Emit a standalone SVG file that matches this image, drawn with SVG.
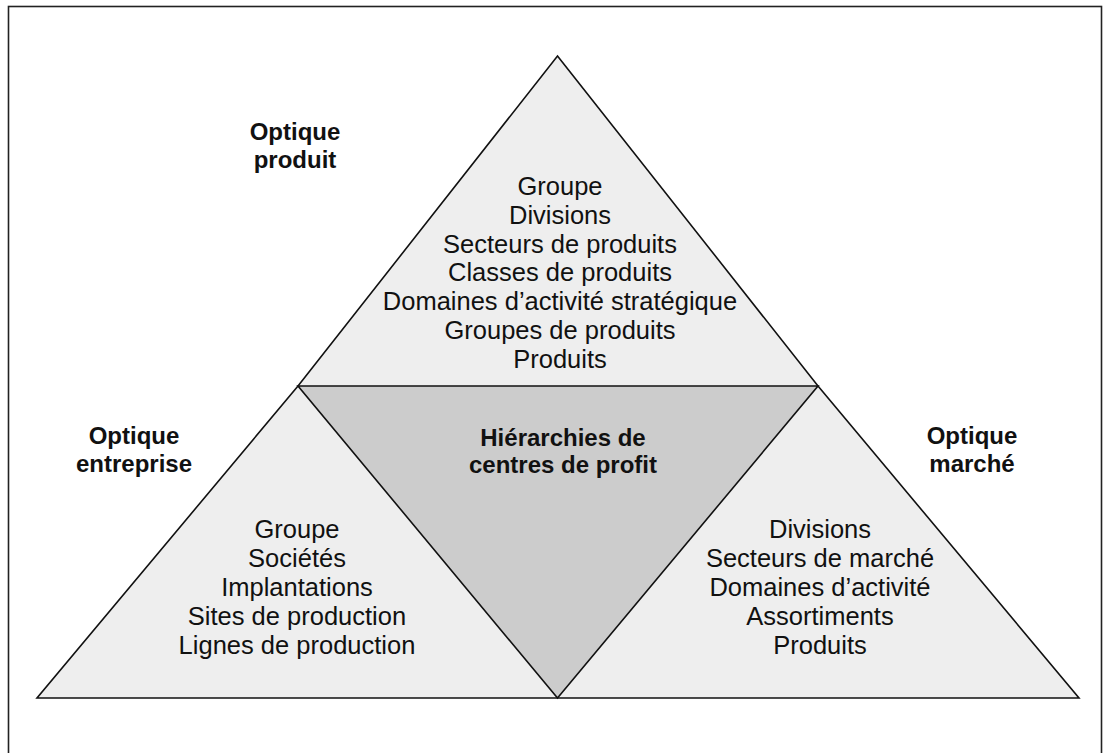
<svg xmlns="http://www.w3.org/2000/svg" width="1105" height="753" viewBox="0 0 1105 753">
<style>
.t{font-family:"Liberation Sans",Arial,sans-serif;font-size:25.5px;fill:#111;text-anchor:middle}
.b{font-family:"Liberation Sans",Arial,sans-serif;font-size:24px;font-weight:bold;fill:#111;text-anchor:middle}
.tri{stroke:#111;stroke-width:1.6;stroke-linejoin:miter}
</style>
<rect width="1105" height="753" fill="#fff"/>
<rect x="8.5" y="6.5" width="1093" height="770" fill="none" stroke="#222" stroke-width="1.6"/>
<g id="outer">
<polygon class="tri" points="557.5,56 818,386 1079,698 37,698 298,386" fill="#eeeeee"/>
</g>
<g id="centre">
<polygon class="tri" points="298,386 818,386 557.5,698" fill="#cccccc"/>
<text class="b" x="563" y="446">Hiérarchies de</text>
<text class="b" x="563" y="473">centres de profit</text>
</g>
<g id="produit">
<text class="b" x="295" y="140">Optique</text>
<text class="b" x="295" y="168">produit</text>
<text class="t" x="560" y="195">Groupe</text>
<text class="t" x="560" y="224">Divisions</text>
<text class="t" x="560" y="253">Secteurs de produits</text>
<text class="t" x="560" y="281">Classes de produits</text>
<text class="t" x="560" y="310">Domaines d’activité stratégique</text>
<text class="t" x="560" y="339">Groupes de produits</text>
<text class="t" x="560" y="368">Produits</text>
</g>
<g id="entreprise">
<text class="b" x="134" y="444">Optique</text>
<text class="b" x="134" y="472">entreprise</text>
<text class="t" x="297" y="538">Groupe</text>
<text class="t" x="297" y="567">Sociétés</text>
<text class="t" x="297" y="596">Implantations</text>
<text class="t" x="297" y="625">Sites de production</text>
<text class="t" x="297" y="654">Lignes de production</text>
</g>
<g id="marche">
<text class="b" x="972" y="444">Optique</text>
<text class="b" x="972" y="472">marché</text>
<text class="t" x="820" y="538">Divisions</text>
<text class="t" x="820" y="567">Secteurs de marché</text>
<text class="t" x="820" y="596">Domaines d’activité</text>
<text class="t" x="820" y="625">Assortiments</text>
<text class="t" x="820" y="654">Produits</text>
</g>
<g id="connectors"></g>
</svg>
